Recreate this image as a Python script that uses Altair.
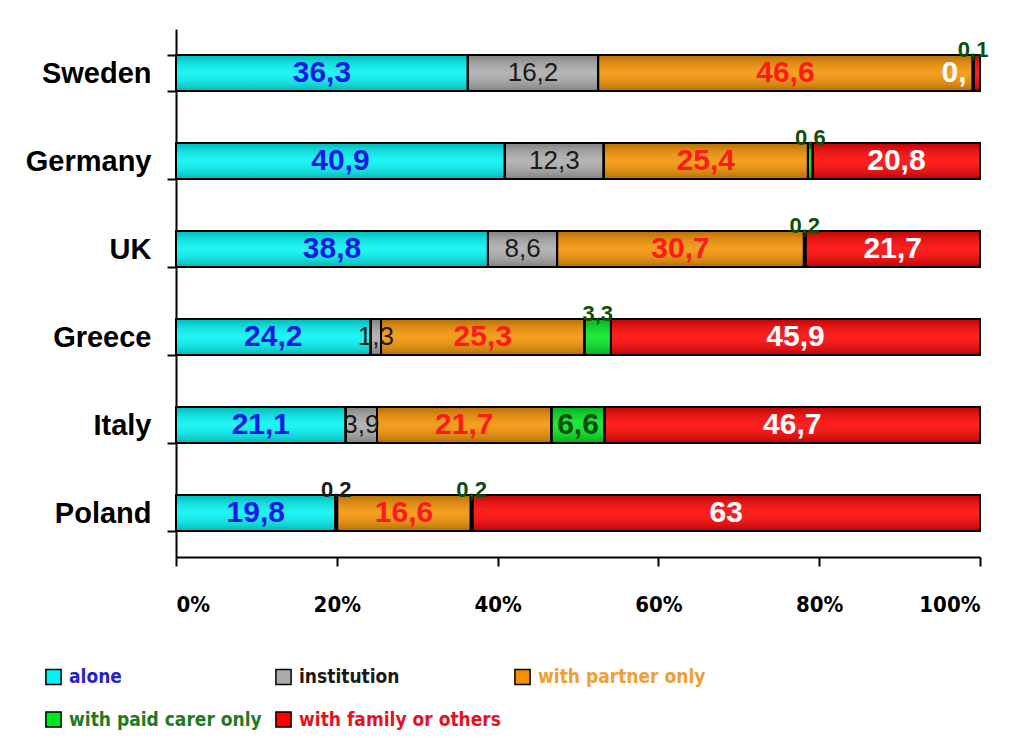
import altair as alt
import pandas as pd

countries = ["Sweden", "Germany", "UK", "Greece", "Italy", "Poland"]
categories = ["alone", "institution", "with partner only", "with paid carer only", "with family or others"]
alone = [36.3, 40.9, 38.8, 24.2, 21.1, 19.8]
institution = [16.2, 12.3, 8.6, 1.3, 3.9, 0.2]
partner = [46.6, 25.4, 30.7, 25.3, 21.7, 16.6]
paid_carer = [0.1, 0.6, 0.2, 3.3, 6.6, 0.2]
family = [0.8, 20.8, 21.7, 45.9, 46.7, 63]

bar_colors = ["#00F4F4", "#ABABAB", "#F39200", "#00E61E", "#FF0000"]
label_colors = ["#1A1AE6", "#1A1A1A", "#FF1A1A", "#0D4D0D", "#FFFFFF"]
legend_label_colors = ["#2323C8", "#1A1A1A", "#F0A030", "#1E7A1E", "#E8101E"]

series = [alone, institution, partner, paid_carer, family]
rows = []
for ci, (cat, vals) in enumerate(zip(categories, series)):
    for country, v in zip(countries, vals):
        rows.append({"country": country, "category": cat, "value": v,
                     "order": ci, "tcolor": label_colors[ci]})
df = pd.DataFrame(rows)

NARROW = "'DejaVu Sans Condensed', 'Liberation Sans Narrow', sans-serif"
SANS = "'Liberation Sans', Arial, sans-serif"

base = alt.Chart(df).transform_stack(
    stack="value", groupby=["country"],
    sort=[alt.SortField("order", order="ascending")],
    as_=["x0", "x1"], offset="normalize"
).transform_calculate(
    mid="(datum.x0 + datum.x1) / 2",
    label="replace(toString(datum.value), '.', ',')"
)

y_enc = alt.Y("country:N", sort=countries, title=None,
              scale=alt.Scale(paddingInner=0.59, paddingOuter=0.295),
              axis=alt.Axis(tickBand="extent", tickSize=9, tickWidth=2, tickColor="black",
                            domainColor="black", domainWidth=2,
                            labelFont=SANS, labelFontWeight="bold", labelFontSize=29,
                            labelColor="black", labelPadding=16,
                            minExtent=168, maxExtent=168))

x_enc = alt.X("x0:Q", title=None,
              scale=alt.Scale(domain=[0, 1], nice=False),
              axis=alt.Axis(format="%", values=[0, 0.2, 0.4, 0.6, 0.8, 1.0],
                            tickSize=9, tickWidth=2, tickColor="black",
                            domainColor="black", domainWidth=2,
                            labelFont=NARROW, labelFontWeight="bold", labelFontSize=22,
                            labelColor="black", labelPadding=28))

cat_list = "[" + ",".join("'%s'" % c for c in categories) + "]"
col_list = "[" + ",".join("'%s'" % c for c in legend_label_colors) + "]"
legend_color_expr = col_list + "[indexof(" + cat_list + ", datum.label)]"

bars = base.mark_bar(stroke="black", strokeWidth=2).encode(
    x=x_enc, x2="x1:Q", y=y_enc,
    color=alt.Color("category:N", scale=alt.Scale(domain=categories, range=bar_colors),
                    legend=alt.Legend(title=None, orient="none", direction="horizontal",
                                      legendX=-132, legendY=638,
                                      columns=3, symbolType="square", symbolSize=230,
                                      symbolStrokeColor="black", symbolStrokeWidth=1.5,
                                      labelFont=NARROW, labelFontWeight="bold", labelFontSize=19,
                                      labelColor=alt.ExprRef(expr=legend_color_expr),
                                      labelLimit=300, columnPadding=10, rowPadding=20,
                                      gridAlign="each", padding=0, labelOffset=6))
)

shade = base.mark_bar(
    fill=alt.LinearGradient(gradient="linear", x1=0, y1=0, x2=0, y2=1, stops=[
        alt.GradientStop(offset=0, color="rgba(0,0,0,0.25)"),
        alt.GradientStop(offset=0.5, color="rgba(255,255,255,0.12)"),
        alt.GradientStop(offset=1, color="rgba(0,0,0,0.25)")]),
    stroke="black", strokeWidth=2
).encode(x="x0:Q", x2="x1:Q", y=alt.Y("country:N", sort=countries))

small_test = ("(datum.category == 'with paid carer only' && datum.value < 5) || "
              "(datum.category == 'institution' && datum.value < 1)")
tiny_family = "datum.category == 'with family or others' && datum.value < 1"

inside_bold = base.transform_filter(
    "!(" + small_test + ") && !(" + tiny_family + ") && datum.category != 'institution'"
).mark_text(font=SANS, fontWeight="bold", fontSize=30, baseline="middle").encode(
    x="mid:Q", y=alt.Y("country:N", sort=countries), text="label:N",
    fill=alt.Fill("tcolor:N", scale=None))

inside_inst = base.transform_filter(
    "!(" + small_test + ") && datum.category == 'institution'"
).mark_text(font=SANS, fontWeight="normal", fontSize=26, baseline="middle").encode(
    x="mid:Q", y=alt.Y("country:N", sort=countries), text="label:N",
    fill=alt.Fill("tcolor:N", scale=None))

above = base.transform_filter(small_test).mark_text(
    font=SANS, fontWeight="bold", fontSize=22, baseline="alphabetic", dy=-16
).encode(x="mid:Q", y=alt.Y("country:N", sort=countries), text="label:N",
         fill=alt.Fill("tcolor:N", scale=None))

tiny = base.transform_filter(tiny_family).mark_text(
    font=SANS, fontWeight="bold", fontSize=30, baseline="middle", align="right",
    dx=-7, limit=27, ellipsis="\u200b"
).encode(x="x0:Q", y=alt.Y("country:N", sort=countries), text="label:N",
         fill=alt.Fill("tcolor:N", scale=None))

chart = alt.layer(bars, shade, inside_bold, inside_inst, above, tiny).properties(
    width=804, height=528,
    padding={"left": 0, "top": 7, "right": 5, "bottom": 5}
).configure_view(strokeWidth=0).configure_axis(grid=False)

chart.save("out.html", embed_options={"renderer": "svg", "actions": False})
